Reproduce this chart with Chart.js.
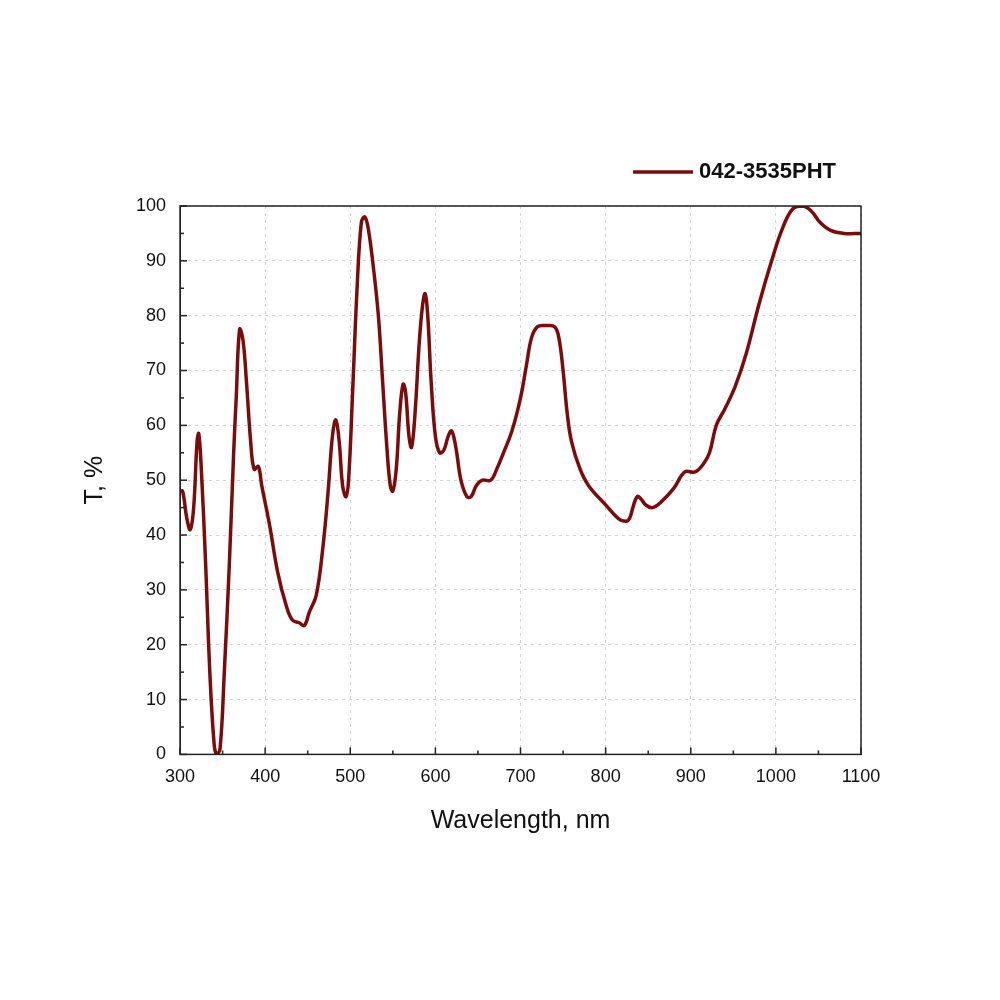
<!DOCTYPE html>
<html>
<head>
<meta charset="utf-8">
<script src="https://cdn.jsdelivr.net/npm/chart.js@4/dist/chart.umd.min.js"></script>
<style>
  html, body { margin: 0; background: #fff; }
  #wrap { width: 1000px; height: 1000px; }
</style>
</head>
<body>
<div id="wrap"><canvas id="c" width="1000" height="1000"></canvas></div>
<script>
// wavelength (nm) and transmission (%)
const wavelength = [300,303,308,312,316,320,322,325,330,335,340,343,347,352,358,363,366,370,374,378,383,387,392,396,405,415,425,432,440,446,452,460,468,474,479,483,487,491,495,498,503,508,513,517,521,527,533,538,543,547,550,554,558,562,565,569,572,576,581,585,588,591,595,600,605,610,615,619,624,630,637,642,648,655,665,672,680,690,700,707,713,720,730,740,745,750,755,760,770,780,800,815,823,828,832,837,842,847,855,865,880,893,905,915,922,930,940,952,965,980,995,1008,1020,1032,1042,1052,1065,1080,1100];
const transmission = [48,48,43,41,45,57,58.5,52,35,15,2,0,1,15,35,55,65,77.5,75.5,68,57,52,52.5,49,42,33,27,24.5,24,23.5,26,29,38,48,58,61,57,49,47,50,67,85,97,98,96,89,80,68,56,49,48,52,62,67.5,66,58,56,62,75,82,84,80,68,58,55,55.5,58,59,56,50,47,47,49,50,50,52,55,59,65,71,76,78,78.2,78,76,70,62,57,52,49,45.5,43,42.5,43,45,47,46.5,45.5,45,46,48.5,51.5,51.5,53,55,60,63,67,73,82,90,96,99.5,100,99,97,95.5,95,95];
const seriesName = "042-3535PHT";
const xTicks = [300,400,500,600,700,800,900,1000,1100];
const yTicks = [0,10,20,30,40,50,60,70,80,90,100];

const lineColor = "#7b0c0c";

// box around the plot, inward ticks (major and minor) and the legend entry
const frame = {
  id: "frame",
  afterDatasetsDraw(chart) {
    const { ctx, chartArea: a, scales: { x, y } } = chart;
    ctx.save();
    ctx.strokeStyle = "#222";
    ctx.lineWidth = 1.5;
    ctx.strokeRect(a.left, a.top, a.right - a.left, a.bottom - a.top);
    for (let v = 300; v <= 1100; v += 50) {
      const px = x.getPixelForValue(v);
      const len = v % 100 === 0 ? 7 : 4;
      ctx.beginPath(); ctx.moveTo(px, a.bottom); ctx.lineTo(px, a.bottom - len); ctx.stroke();
    }
    for (let v = 0; v <= 100; v += 5) {
      const py = y.getPixelForValue(v);
      const len = v % 10 === 0 ? 7 : 4;
      ctx.beginPath(); ctx.moveTo(a.left, py); ctx.lineTo(a.left + len, py); ctx.stroke();
    }
    // legend
    const ds = chart.data.datasets[0];
    const ly = a.top - 34;
    ctx.strokeStyle = ds.borderColor;
    ctx.lineWidth = ds.borderWidth;
    ctx.beginPath(); ctx.moveTo(633, ly); ctx.lineTo(693, ly); ctx.stroke();
    ctx.fillStyle = "#111";
    ctx.font = "bold 22px 'Liberation Sans'";
    ctx.textBaseline = "middle";
    ctx.fillText(ds.label, 699, ly);
    ctx.restore();
  }
};

const tickFont = { family: "Liberation Sans", size: 18 };
const titleFont = { family: "Liberation Sans", size: 25 };

new Chart(document.getElementById("c"), {
  type: "line",
  data: {
    datasets: [{
      label: seriesName,
      data: wavelength.map((w, i) => ({ x: w, y: transmission[i] })),
      borderColor: lineColor,
      backgroundColor: lineColor,
      borderWidth: 3.5,
      pointRadius: 0,
      tension: 0.4,
      fill: false
    }]
  },
  options: {
    responsive: false,
    animation: false,
    layout: { padding: { left: 76, right: 139, top: 206, bottom: 160 } },
    plugins: {
      legend: { display: false },
      tooltip: { enabled: false }
    },
    scales: {
      x: {
        type: "linear", min: 300, max: 1100,
        afterBuildTicks: s => { s.ticks = xTicks.map(v => ({ value: v })); },
        grid: { color: "#d4d4d4", drawTicks: false, lineWidth: 1 },
        border: { display: true, dash: [3, 4], color: "#222" },
        ticks: { color: "#111", padding: 12, font: tickFont, callback: v => String(v) },
        title: { display: true, text: "Wavelength, nm", color: "#111", font: titleFont, padding: { top: 6 } }
      },
      y: {
        min: 0, max: 100,
        afterBuildTicks: s => { s.ticks = yTicks.map(v => ({ value: v })); },
        grid: { color: "#d4d4d4", drawTicks: false, lineWidth: 1 },
        border: { display: true, dash: [3, 4], color: "#222" },
        ticks: { color: "#111", padding: 14, font: tickFont, callback: v => String(v) },
        title: { display: true, text: "T, %", color: "#111", font: titleFont, padding: { bottom: 12 } }
      }
    }
  },
  plugins: [frame]
});
</script>
</body>
</html>
